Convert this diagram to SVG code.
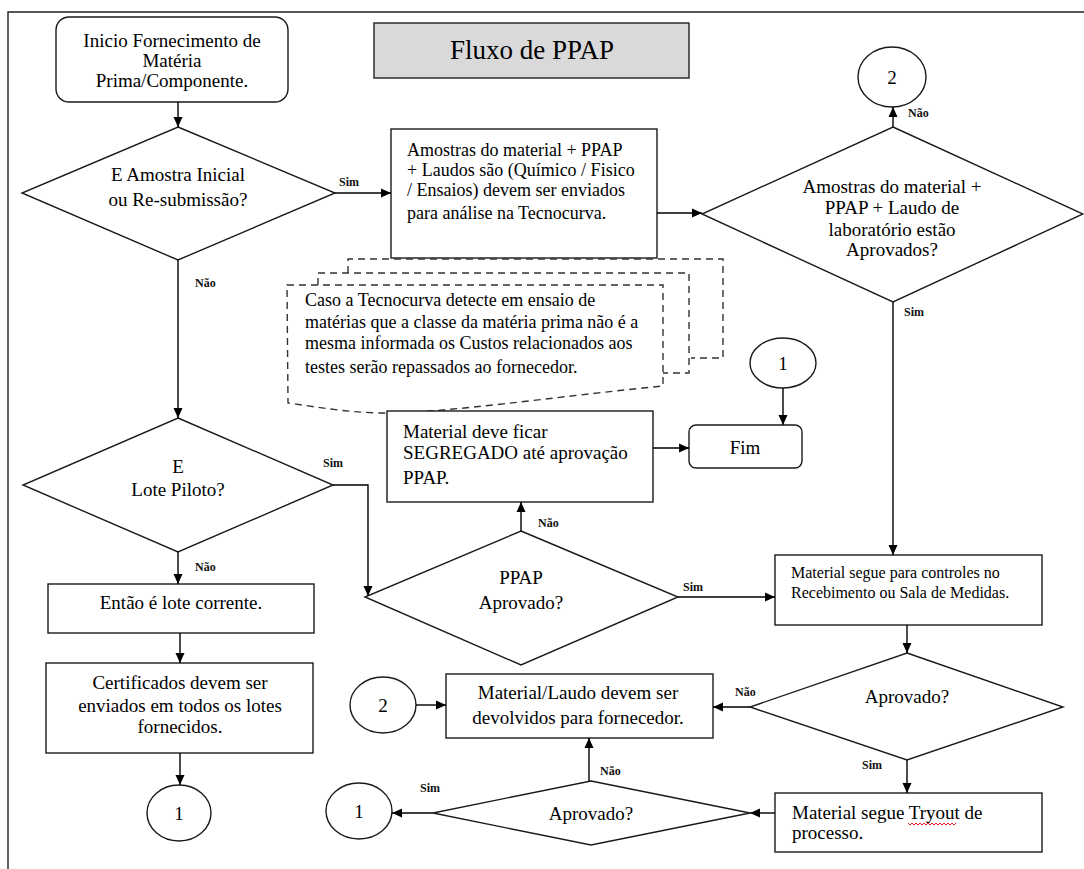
<svg xmlns="http://www.w3.org/2000/svg" width="1084" height="869" viewBox="0 0 1084 869">
<defs>
<marker id="ah" viewBox="0 0 10 10" refX="10" refY="5" markerWidth="10" markerHeight="10" markerUnits="userSpaceOnUse" orient="auto"><path d="M0,0.5 L10,5 L0,9.5 z" fill="#000"/></marker>
<style>
.s{fill:#fff;stroke:#1a1a1a;stroke-width:1.4}
.t{font-family:'Liberation Serif',Tinos,'Times New Roman','DejaVu Serif',serif;font-size:19px;fill:#000}
.c{text-anchor:middle}
.sm{font-size:18px}
.xs{font-size:16px}
.lb{font-family:'Liberation Serif',Tinos,'Times New Roman','DejaVu Serif',serif;font-size:12px;font-weight:bold;fill:#111}
.cn{fill:none;stroke:#000;stroke-width:1.4;marker-end:url(#ah)}
.d{fill:#fff;stroke:#333;stroke-width:1.4;stroke-dasharray:7,5}
</style>
</defs>
<rect width="1084" height="869" fill="#fff"/>
<path d="M8,869 V12 H1084" fill="none" stroke="#222" stroke-width="1.4"/>

<g id="title"><rect x="374" y="23" width="315" height="55" fill="#d9d9d9" stroke="#222" stroke-width="1.4"/><text class="t c" x="532" y="59" style="font-size:27px">Fluxo de PPAP</text></g>

<g id="start"><rect class="s" x="56" y="17" width="232" height="85" rx="13"/>
<text class="t c" x="172" y="47">Inicio Fornecimento de</text>
<text class="t c" x="172" y="67">Matéria</text>
<text class="t c" x="172" y="87">Prima/Componente.</text></g>

<g id="d1"><polygon class="s" points="178,127 335,193 178,260 22,193"/>
<text class="t c" x="178" y="181">E Amostra Inicial</text>
<text class="t c" x="178" y="206">ou Re-submissão?</text></g>

<g id="amostras"><rect class="s" x="391" y="129" width="266" height="129"/>
<text class="t sm" x="407" y="156">Amostras do material + PPAP</text>
<text class="t sm" x="407" y="176">+ Laudos são (Químico / Fisico</text>
<text class="t sm" x="407" y="196">/ Ensaios) devem ser enviados</text>
<text class="t sm" x="407" y="219">para análise na Tecnocurva.</text></g>

<g id="d2"><polygon class="s" points="893,127 1083,214 893,302 702,214"/>
<text class="t c" x="892" y="193">Amostras do material +</text>
<text class="t c" x="892" y="214">PPAP + Laudo de</text>
<text class="t c" x="892" y="236">laboratório estão</text>
<text class="t c" x="892" y="256">Aprovados?</text></g>

<g id="c2top"><ellipse class="s" cx="892" cy="77" rx="34" ry="30"/><text class="t c" x="892" y="84">2</text></g>

<g id="callout">
<path class="d" d="M348,273 V259 H723 V358 H691"/>
<path class="d" d="M318,285 V273 H689 V373 H663"/>
<path class="d" d="M287,285 H663 V386 C560,396 440,414 380,413 C340,412 305,405 288,403 Z"/>
<text class="t sm" x="305" y="306">Caso a Tecnocurva detecte em ensaio de</text>
<text class="t sm" x="305" y="328">matérias que a classe da matéria prima não é a</text>
<text class="t sm" x="305" y="349">mesma informada os Custos relacionados aos</text>
<text class="t sm" x="305" y="373">testes serão repassados ao fornecedor.</text></g>

<g id="segregado"><rect class="s" x="387" y="411" width="266" height="91"/>
<text class="t" x="403" y="438">Material deve ficar</text>
<text class="t" x="403" y="459">SEGREGADO até aprovação</text>
<text class="t" x="403" y="484">PPAP.</text></g>

<g id="fim"><rect class="s" x="689" y="425" width="113" height="43" rx="7"/><text class="t c" x="745" y="454">Fim</text></g>
<g id="c1mid"><ellipse class="s" cx="783" cy="363" rx="33" ry="25"/><text class="t c" x="783" y="370">1</text></g>

<g id="d3"><polygon class="s" points="178,418 333,485 178,552 23,485"/>
<text class="t c" x="178" y="473">E</text>
<text class="t c" x="178" y="496">Lote Piloto?</text></g>

<g id="entao"><rect class="s" x="48" y="584" width="266" height="49"/><text class="t c" x="181" y="609">Então é lote corrente.</text></g>

<g id="cert"><rect class="s" x="46" y="663" width="267" height="90"/>
<text class="t c" x="180" y="689">Certificados devem ser</text>
<text class="t c" x="180" y="712">enviados em todos os lotes</text>
<text class="t c" x="180" y="733">fornecidos.</text></g>

<g id="c1left"><ellipse class="s" cx="179" cy="813" rx="32" ry="28"/><text class="t c" x="179" y="820">1</text></g>

<g id="ppap"><polygon class="s" points="521,531 678,597 521,665 365,597"/>
<text class="t c" x="521" y="584">PPAP</text>
<text class="t c" x="521" y="609">Aprovado?</text></g>

<g id="controles"><rect class="s" x="775" y="555" width="267" height="70"/>
<text class="t xs" x="791" y="578">Material segue para controles no</text>
<text class="t xs" x="791" y="598">Recebimento ou Sala de Medidas.</text></g>

<g id="d4"><polygon class="s" points="907,653 1063,707 907,760 750,707"/><text class="t c" x="907" y="703">Aprovado?</text></g>

<g id="devolvidos"><rect class="s" x="446" y="674" width="267" height="64"/>
<text class="t c" x="578" y="699">Material/Laudo devem ser</text>
<text class="t c" x="578" y="724">devolvidos para fornecedor.</text></g>

<g id="c2left"><ellipse class="s" cx="383" cy="705" rx="33" ry="28"/><text class="t c" x="383" y="712">2</text></g>

<g id="tryout"><rect class="s" x="775" y="793" width="267" height="59"/>
<text class="t" x="792" y="819">Material segue Tryout de</text>
<text class="t" x="792" y="839">processo.</text>
<path d="M908,823 l2,2 l2,-2 l2,2 l2,-2 l2,2 l2,-2 l2,2 l2,-2 l2,2 l2,-2 l2,2 l2,-2 l2,2 l2,-2 l2,2 l2,-2 l2,2 l2,-2 l2,2 l2,-2 l2,2 l2,-2 l2,2 l2,-2" fill="none" stroke="#e00" stroke-width="0.9"/></g>

<g id="d5"><polygon class="s" points="591,781 750,813 591,845 433,813"/><text class="t c" x="591" y="820">Aprovado?</text></g>

<g id="c1bot"><ellipse class="s" cx="359" cy="811" rx="33" ry="28"/><text class="t c" x="359" y="818">1</text></g>

<g id="connectors">
<path class="cn" d="M178,102 V127"/>
<path class="cn" d="M335,193 H391"/>
<path class="cn" d="M657,213 H702"/>
<path class="cn" d="M893,127 V107"/>
<path class="cn" d="M893,302 V555"/>
<path class="cn" d="M178,260 V418"/>
<path class="cn" d="M333,485 H368 V596"/>
<path class="cn" d="M521,531 V502"/>
<path class="cn" d="M653,448 H689"/>
<path class="cn" d="M783,388 V425"/>
<path class="cn" d="M678,597 H775"/>
<path class="cn" d="M178,552 V584"/>
<path class="cn" d="M180,633 V663"/>
<path class="cn" d="M180,753 V785"/>
<path class="cn" d="M907,625 V653"/>
<path class="cn" d="M750,707 H713"/>
<path class="cn" d="M907,760 V793"/>
<path class="cn" d="M416,705 H446"/>
<path class="cn" d="M589,781 V738"/>
<path class="cn" d="M775,813 H750"/>
<path class="cn" d="M433,813 H392"/>
</g>

<g id="labels">
<text class="lb" x="339" y="186">Sim</text>
<text class="lb" x="195" y="287">Não</text>
<text class="lb" x="908" y="117">Não</text>
<text class="lb" x="904" y="316">Sim</text>
<text class="lb" x="323" y="467">Sim</text>
<text class="lb" x="195" y="571">Não</text>
<text class="lb" x="538" y="527">Não</text>
<text class="lb" x="683" y="591">Sim</text>
<text class="lb" x="735" y="696">Não</text>
<text class="lb" x="862" y="769">Sim</text>
<text class="lb" x="600" y="775">Não</text>
<text class="lb" x="420" y="792">Sim</text>
</g>
</svg>
